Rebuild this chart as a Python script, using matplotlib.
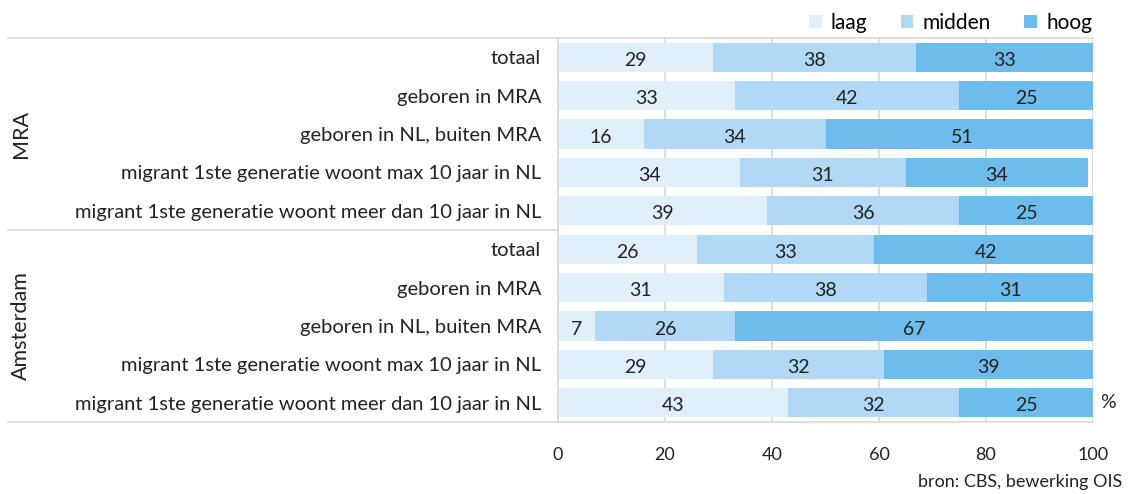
import matplotlib
matplotlib.use("Agg")
from matplotlib import pyplot as plt
import numpy as np

plt.rcParams['font.family'] = ['Lato', 'DejaVu Sans']

# data
groups = ["MRA", "Amsterdam"]
categories = ["totaal",
              "geboren in MRA",
              "geboren in NL, buiten MRA",
              "migrant 1ste generatie woont max 10 jaar in NL",
              "migrant 1ste generatie woont meer dan 10 jaar in NL"]
laag = [29, 33, 16, 34, 39, 26, 31, 7, 29, 43]
midden = [38, 42, 34, 31, 36, 33, 38, 26, 32, 32]
hoog = [33, 25, 51, 34, 25, 42, 31, 67, 39, 25]
series_names = ["laag", "midden", "hoog"]
colors = ["#e1effa", "#b1d8f4", "#6ebcec"]
xticks = [0, 20, 40, 60, 80, 100]

fig = plt.figure(figsize=(11.3, 4.94), dpi=100)
ax = fig.add_axes([558 / 1130, 1 - 422 / 494, 535 / 1130, 384 / 494])

n = len(laag)
y = np.arange(n)
left = np.zeros(n)
handles = []
for vals, col, name in zip([laag, midden, hoog], colors, series_names):
    vals = np.array(vals, dtype=float)
    b = ax.barh(y, vals, left=left, height=0.76, color=col, label=name, zorder=2)
    handles.append(b)
    for yi, l, v in zip(y, left, vals):
        ax.text(l + v / 2, yi + 0.08, str(int(v)), ha='center', va='center',
                fontsize=14, color='#222222', zorder=3)
    left += vals

ax.set_xlim(0, 100)
ax.set_ylim(n - 0.5, -0.5)
ax.set_xticks(xticks)
ax.set_xticklabels([str(t) for t in xticks], fontsize=13, color='#222222')
ax.tick_params(axis='x', length=0, pad=18)
ax.set_yticks(y)
ax.set_yticklabels(categories * 2, fontsize=14.5, color='#222222')
ax.tick_params(axis='y', length=0, pad=12)
ax.grid(axis='x', color='#d9d9d9', linewidth=1.2, zorder=0)
for s in ['top', 'bottom', 'left']:
    ax.spines[s].set_color('#d9d9d9')
    ax.spines[s].set_linewidth(1.2)
ax.spines['right'].set_visible(False)

# group lines and labels on the left
tr = ax.get_yaxis_transform()
x0 = -(558 - 8) / 535
for yy in [-0.5, 4.5, n - 0.5]:
    ax.plot([x0, 0], [yy, yy], color='#d9d9d9', lw=1.2, transform=tr, clip_on=False)
for i, g in enumerate(groups):
    ax.text(-(558 - 21) / 535, i * 5 + 2, g, rotation=90, ha='center', va='center',
            fontsize=15.5, color='#222222', transform=tr)

ax.text(1.013, n - 1, "%", transform=tr, ha='left', va='center', fontsize=14, color='#222222')

fig.legend(handles, series_names, loc='upper right', bbox_to_anchor=(1111 / 1130, 1.012),
           ncol=3, frameon=False, fontsize=15, handlelength=0.6, handleheight=0.6,
           handletextpad=0.45, columnspacing=1.6)
fig.text(1122 / 1130, 1 - 482 / 494, "bron: CBS, bewerking OIS", ha='right', va='center',
         fontsize=13, color='#222222')

fig.savefig("out.png", dpi=100)
